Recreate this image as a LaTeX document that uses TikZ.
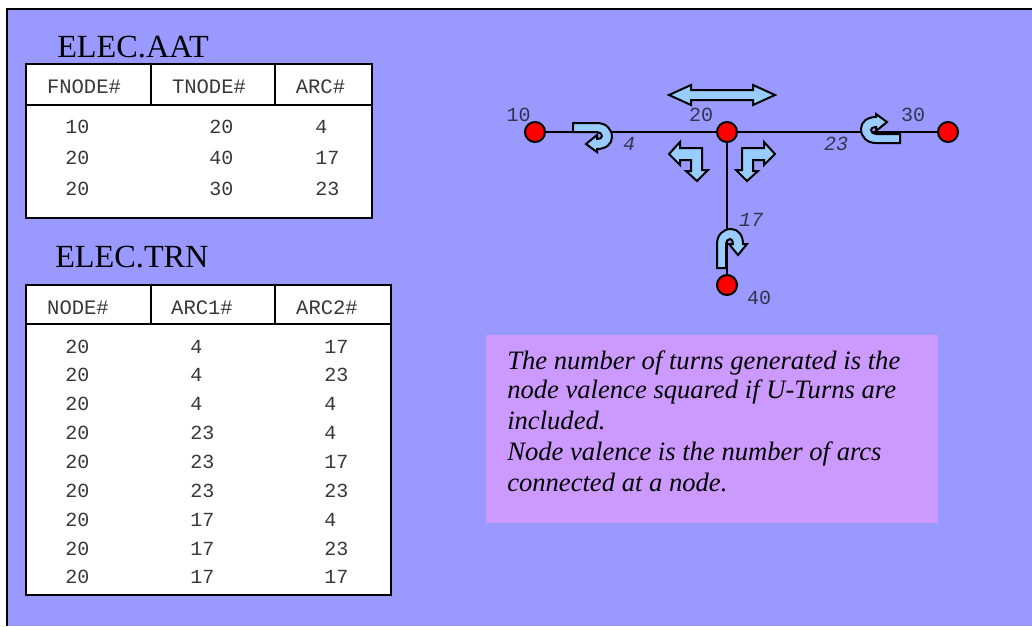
\documentclass[tikz,border=0pt]{standalone}
\usepackage{fontspec}
\setmainfont{Liberation Serif}
\setmonofont{Liberation Mono}
\definecolor{bgblue}{HTML}{9999FF}
\definecolor{panel}{HTML}{CC99FF}
\definecolor{arrowfill}{HTML}{99CCFF}
\definecolor{nodered}{HTML}{FF0000}
\definecolor{labelink}{HTML}{33334D}
\tikzset{
  x=0.75pt,y=-0.75pt,
  tablebox/.style={draw=black,line width=1.5pt,fill=white},
  tablerule/.style={draw=black,line width=1.5pt},
  monocell/.style={inner sep=0pt,anchor=base west,font=\fontsize{15}{15}\selectfont\ttfamily,text=black!78},
  headcell/.style={inner sep=0pt,anchor=base,font=\fontsize{15.4}{15}\selectfont\ttfamily,text=black!78},
  titletext/.style={inner sep=0pt,anchor=base west,font=\fontsize{24.2}{24}\selectfont,text=black},
  vertex/.style={circle,draw=black,line width=1.5pt,fill=nodered,minimum size=15pt,inner sep=0pt},
  arcline/.style={draw=black,line width=1.5pt},
  turnarrow/.style={draw=black,line width=1.5pt,fill=arrowfill,line join=miter},
  vlabel/.style={inner sep=0pt,anchor=base,font=\fontsize{15}{15}\selectfont\ttfamily,text=labelink},
  alabel/.style={inner sep=0pt,anchor=base,font=\fontsize{15}{15}\selectfont\ttfamily\itshape,text=labelink},
  panelline/.style={inner sep=0pt,anchor=base west,font=\fontsize{19.95}{20}\selectfont\itshape,text=black},
}
\begin{document}
\begin{tikzpicture}
\useasboundingbox (0,0) rectangle (1032,626);
\fill[white] (0,0) rectangle (1032,626);
\fill[bgblue] (7,9) rectangle (1032,626);
\draw[black,line width=1.5pt] (1032,9) -- (7,9) -- (7,626);

% ---- table 1
\node[titletext] (t1) at (57,57) {ELEC.AAT};
\draw[tablebox] (26,64) rectangle (372,218);
\draw[tablerule] (26,105) -- (372,105) (151,64) -- (151,105) (275,64) -- (275,105);
\node[headcell] (a1) at (84,93) {FNODE\#};
\node[headcell] (a2) at (209,93) {TNODE\#};
\node[headcell] (a3) at (320.5,93) {ARC\#};
\node[monocell] (ar1a) at (65,133) {10};
\node[monocell] (ar1b) at (209,133) {20};
\node[monocell] (ar1c) at (315,133) {4};
\node[monocell] (ar2a) at (65,164) {20};
\node[monocell] (ar2b) at (209,164) {40};
\node[monocell] (ar2c) at (315,164) {17};
\node[monocell] (ar3a) at (65,195) {20};
\node[monocell] (ar3b) at (209,195) {30};
\node[monocell] (ar3c) at (315,195) {23};

% ---- table 2
\node[titletext] (t2) at (55,267) {ELEC.TRN};
\draw[tablebox] (26,285) rectangle (391,595);
\draw[tablerule] (26,324) -- (391,324) (151,285) -- (151,324) (275,285) -- (275,324);
\node[headcell] (b1) at (78,314) {NODE\#};
\node[headcell] (b2) at (202,314) {ARC1\#};
\node[headcell] (b3) at (327,314) {ARC2\#};
\node[monocell] (r1a) at (65,353) {20};
\node[monocell] (r1b) at (190,353) {4};
\node[monocell] (r1c) at (324,353) {17};
\node[monocell] (r2a) at (65,381) {20};
\node[monocell] (r2b) at (190,381) {4};
\node[monocell] (r2c) at (324,381) {23};
\node[monocell] (r3a) at (65,410) {20};
\node[monocell] (r3b) at (190,410) {4};
\node[monocell] (r3c) at (324,410) {4};
\node[monocell] (r4a) at (65,439) {20};
\node[monocell] (r4b) at (190,439) {23};
\node[monocell] (r4c) at (324,439) {4};
\node[monocell] (r5a) at (65,468) {20};
\node[monocell] (r5b) at (190,468) {23};
\node[monocell] (r5c) at (324,468) {17};
\node[monocell] (r6a) at (65,497) {20};
\node[monocell] (r6b) at (190,497) {23};
\node[monocell] (r6c) at (324,497) {23};
\node[monocell] (r7a) at (65,526) {20};
\node[monocell] (r7b) at (190,526) {17};
\node[monocell] (r7c) at (324,526) {4};
\node[monocell] (r8a) at (65,555) {20};
\node[monocell] (r8b) at (190,555) {17};
\node[monocell] (r8c) at (324,555) {23};
\node[monocell] (r9a) at (65,583) {20};
\node[monocell] (r9b) at (190,583) {17};
\node[monocell] (r9c) at (324,583) {17};

% ---- panel
\fill[panel] (486,335) rectangle (938,523);
\node[panelline] (p1) at (507,369) {The number of turns generated is the};
\node[panelline] (p2) at (507,398) {node valence squared if U-Turns are};
\node[panelline] (p3) at (507,429) {included.};
\node[panelline] (p4) at (507,460) {Node valence is the number of arcs};
\node[panelline] (p5) at (507,491) {connected at a node.};

% ---- network
\node[vertex] (n10) at (535,132) {};
\node[vertex] (n20) at (727,132) {};
\node[vertex] (n30) at (948,132) {};
\node[vertex] (n40) at (727,285) {};
\draw[arcline] (n10) -- (n20);
\draw[arcline] (n20) -- (n30);
\draw[arcline] (n20) -- (n40);

\node[vlabel] (l10) at (518.5,121) {10};
\node[vlabel] (l20) at (701,121) {20};
\node[vlabel] (l30) at (913,121) {30};
\node[vlabel] (l40) at (759,304) {40};
\node[alabel] (l4) at (629,150) {4};
\node[alabel] (l23) at (836,150) {23};
\node[alabel] (l17) at (751,226) {17};

% straight-through double arrow
\draw[turnarrow] (669,95) -- (691,85) -- (691,90) -- (753,90) -- (753,85) -- (775,95) -- (753,105) -- (753,100) -- (691,100) -- (691,105) -- cycle;
% left turn
\draw[turnarrow] (669,154) -- (680,142) -- (680,148) -- (702,148) -- (702,170) -- (708,170) -- (697,181) -- (686,171) -- (691,171) -- (691,160) -- (680,160) -- (680,165) -- cycle;
% right turn
\draw[turnarrow] (775,154) -- (764,142) -- (764,148) -- (742,148) -- (742,170) -- (736,170) -- (747,181) -- (758,171) -- (753,171) -- (753,160) -- (764,160) -- (764,165) -- cycle;
% U-turn on arc 4
\draw[turnarrow] (573,123) -- (597,123) .. controls (606,123) and (612,129) .. (612,137) .. controls (612,144) and (606,149) .. (597,149) -- (597,152) -- (586,144) -- (597,135) -- (597,139) .. controls (600,139) and (602,138) .. (602,136) .. controls (602,134) and (600,132) .. (597,132) -- (573,132) -- cycle;
% U-turn on arc 23
\draw[turnarrow] (900,143) -- (876,143) .. controls (867,143) and (861,137) .. (861,129) .. controls (861,122) and (867,117) .. (876,117) -- (876,114) -- (887,122) -- (876,131) -- (876,127) .. controls (873,127) and (871,128) .. (871,130) .. controls (871,132) and (873,134) .. (876,134) -- (900,134) -- cycle;
% U-turn on arc 17
\draw[turnarrow] (717,268) -- (717,244) .. controls (717,235) and (723,229) .. (731,229) .. controls (738,229) and (743,235) .. (743,244) -- (747,244) -- (738,255) -- (729,244) -- (733,244) .. controls (733,241) and (732,239) .. (730,239) .. controls (728,239) and (726,241) .. (726,244) -- (726,268) -- cycle;
\end{tikzpicture}
\end{document}
